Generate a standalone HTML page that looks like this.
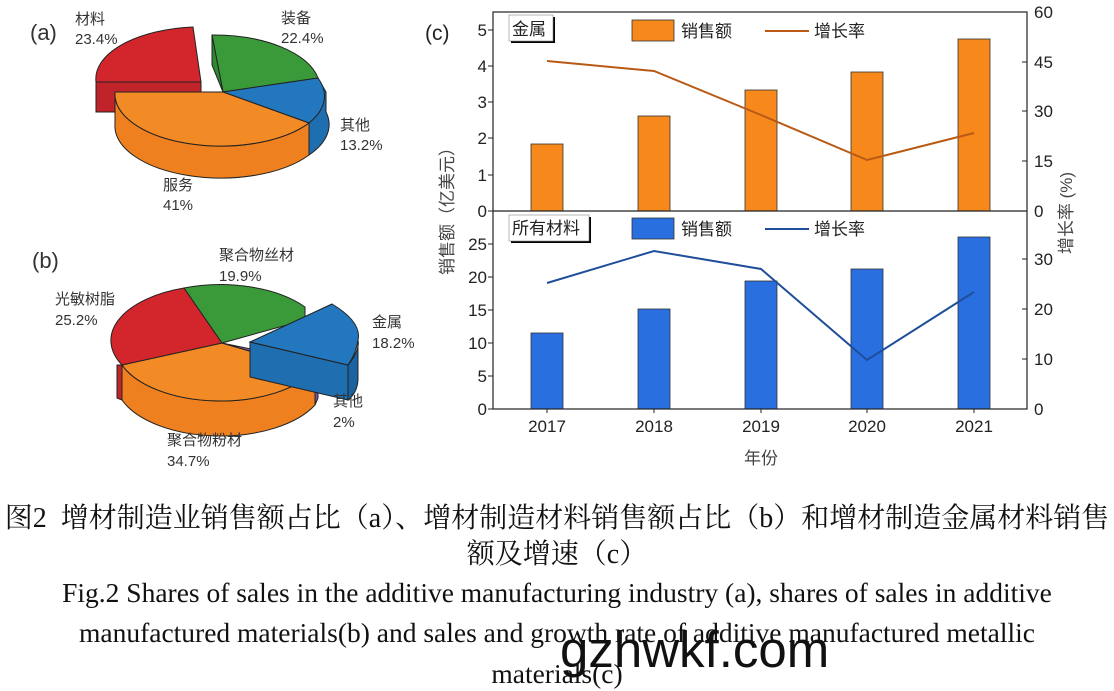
<!DOCTYPE html>
<html><head><meta charset="utf-8"><style>
body{margin:0;background:#fff;width:1114px;height:691px;overflow:hidden;position:relative;font-family:"Liberation Sans","Noto Sans CJK SC",sans-serif}
.cap{position:absolute;left:0;width:1114px;text-align:center;font-family:"Liberation Serif","Noto Serif CJK SC",serif;color:#111;white-space:nowrap}
</style></head><body>
<svg width="1114" height="480" style="position:absolute;left:0;top:0" font-family="Liberation Sans, Noto Sans CJK SC, sans-serif">
<g stroke="#222" stroke-width="1">
<path d="M96,82 L96,112 L201,112 L201,82 Z" fill="#c0242a"/>
<path d="M96,82 A106,52 0 0 1 193,27 L201,82 Z" fill="#d3262c"/>
<path d="M318,78 L326,92 L326,112 A106,52 0 0 1 309,155 L309,123 Z" fill="#1f6fb0"/>
<path d="M212,35 A106,52 0 0 1 318,78 L223,92 Z" fill="#3a9a3a"/>
<path d="M212,35 L212,65 L223,92 Z" fill="#2f8a2f"/>
<path d="M223,92 L318,78 A106,52 0 0 1 309,123 Z" fill="#2277be"/>
<path d="M115,92 A106,52 0 0 0 309,123 L309,155 A106,52 0 0 1 115,124 Z" fill="#ee8020"/>
<path d="M223,92 L115,92 A106,52 0 0 0 309,123 Z" fill="#f28a25"/>
<path d="M117,365 L117,398 L122,400 L122,365 Z" fill="#c0242a"/>
<path d="M122,365 A105,55 0 0 0 315,370 L315,405 A105,55 0 0 1 122,400 Z" fill="#ee8020"/>
<path d="M222,343 L122,365 A105,55 0 0 0 315,370 Z" fill="#f28a25"/>
<path d="M222,343 L315,370 L318,363 Z" fill="#8e5fb0"/>
<path d="M315,370 L318,363 L318,398 L315,405 Z" fill="#7d4f9e"/>
<path d="M222,343 L122,365 A105,55 0 0 1 184,288 Z" fill="#d3262c"/>
<path d="M222,343 L184,288 A105,55 0 0 1 305,307 L305,320 Z" fill="#3a9a3a"/>
<path d="M348,365 Q360,350 358,340 L358,378 Q358,392 348,400 Z" fill="#1a62a0"/>
<path d="M250,342 L348,365 L348,400 L250,377 Z" fill="#1f6fb0"/>
<path d="M250,342 L332,304 Q362,322 358,340 Q356,354 348,365 Z" fill="#2277be"/>
</g>
<g font-size="15" fill="#333">
<text x="30" y="40" font-size="22">(a)</text>
<text x="75" y="24">材料</text><text x="75" y="44">23.4%</text>
<text x="281" y="23">装备</text><text x="281" y="43">22.4%</text>
<text x="340" y="130">其他</text><text x="340" y="150">13.2%</text>
<text x="163" y="190">服务</text><text x="163" y="210">41%</text>
<text x="32" y="268" font-size="22">(b)</text>
<text x="219" y="260">聚合物丝材</text><text x="219" y="281">19.9%</text>
<text x="55" y="304">光敏树脂</text><text x="55" y="325">25.2%</text>
<text x="372" y="327">金属</text><text x="372" y="348">18.2%</text>
<text x="333" y="406">其他</text><text x="333" y="427">2%</text>
<text x="167" y="445">聚合物粉材</text><text x="167" y="466">34.7%</text>
</g>
<g font-size="17" fill="#222">
<text x="425" y="40" font-size="21">(c)</text>
<rect x="531" y="144" width="32" height="67" fill="#f7891c" stroke="#333" stroke-width="0.8"/>
<rect x="638" y="116" width="32" height="95" fill="#f7891c" stroke="#333" stroke-width="0.8"/>
<rect x="745" y="90" width="32" height="121" fill="#f7891c" stroke="#333" stroke-width="0.8"/>
<rect x="851" y="72" width="32" height="139" fill="#f7891c" stroke="#333" stroke-width="0.8"/>
<rect x="958" y="39" width="32" height="172" fill="#f7891c" stroke="#333" stroke-width="0.8"/>
<polyline points="547,61 654,71 761,115 867,160 974,133" fill="none" stroke="#b85a14" stroke-width="2"/>
<rect x="531" y="333" width="32" height="76" fill="#2a6fe0" stroke="#333" stroke-width="0.8"/>
<rect x="638" y="309" width="32" height="100" fill="#2a6fe0" stroke="#333" stroke-width="0.8"/>
<rect x="745" y="281" width="32" height="128" fill="#2a6fe0" stroke="#333" stroke-width="0.8"/>
<rect x="851" y="269" width="32" height="140" fill="#2a6fe0" stroke="#333" stroke-width="0.8"/>
<rect x="958" y="237" width="32" height="172" fill="#2a6fe0" stroke="#333" stroke-width="0.8"/>
<polyline points="547,283 654,251 761,269 867,360 974,292" fill="none" stroke="#1f4e9a" stroke-width="2"/>
<rect x="493" y="12" width="534" height="397" fill="none" stroke="#222" stroke-width="1.2"/>
<line x1="493" y1="211" x2="1027" y2="211" stroke="#222" stroke-width="1.2"/>
<g stroke="#222" stroke-width="1">
<line x1="488" y1="211" x2="493" y2="211"/><line x1="488" y1="175" x2="493" y2="175"/><line x1="488" y1="138" x2="493" y2="138"/><line x1="488" y1="102" x2="493" y2="102"/><line x1="488" y1="66" x2="493" y2="66"/><line x1="488" y1="30" x2="493" y2="30"/>
<line x1="488" y1="409" x2="493" y2="409"/><line x1="488" y1="376" x2="493" y2="376"/><line x1="488" y1="343" x2="493" y2="343"/><line x1="488" y1="310" x2="493" y2="310"/><line x1="488" y1="277" x2="493" y2="277"/><line x1="488" y1="244" x2="493" y2="244"/>
<line x1="1022" y1="12" x2="1027" y2="12"/><line x1="1022" y1="62" x2="1027" y2="62"/><line x1="1022" y1="111" x2="1027" y2="111"/><line x1="1022" y1="161" x2="1027" y2="161"/>
<line x1="1022" y1="359" x2="1027" y2="359"/><line x1="1022" y1="309" x2="1027" y2="309"/><line x1="1022" y1="259" x2="1027" y2="259"/>
<line x1="547" y1="409" x2="547" y2="413"/><line x1="654" y1="409" x2="654" y2="413"/><line x1="761" y1="409" x2="761" y2="413"/><line x1="867" y1="409" x2="867" y2="413"/><line x1="974" y1="409" x2="974" y2="413"/>
</g>
<g text-anchor="end">
<text x="487" y="217">0</text><text x="487" y="181">1</text><text x="487" y="144">2</text><text x="487" y="108">3</text><text x="487" y="72">4</text><text x="487" y="36">5</text>
<text x="487" y="415">0</text><text x="487" y="382">5</text><text x="487" y="349">10</text><text x="487" y="316">15</text><text x="487" y="283">20</text><text x="487" y="250">25</text>
</g>
<g>
<text x="1034" y="18">60</text><text x="1034" y="68">45</text><text x="1034" y="117">30</text><text x="1034" y="167">15</text><text x="1034" y="217">0</text>
<text x="1034" y="415">0</text><text x="1034" y="365">10</text><text x="1034" y="315">20</text><text x="1034" y="265">30</text>
</g>
<g text-anchor="middle">
<text x="547" y="432">2017</text><text x="654" y="432">2018</text><text x="761" y="432">2019</text><text x="867" y="432">2020</text><text x="974" y="432">2021</text>
<text x="761" y="464" fill="#444">年份</text>
<text transform="translate(453,207) rotate(-90)" fill="#444">销售额（亿美元）</text>
<text transform="translate(1072,213) rotate(-90)" fill="#444">增长率 (%)</text>
</g>
<rect x="511" y="17" width="44" height="26" fill="#000"/><rect x="509" y="15" width="44" height="26" fill="#fff" stroke="#888" stroke-width="0.6"/>
<text x="512" y="35">金属</text>
<rect x="632" y="20" width="42" height="21" fill="#f7891c" stroke="#333" stroke-width="0.8"/><text x="681" y="37">销售额</text>
<line x1="765" y1="31" x2="809" y2="31" stroke="#b85a14" stroke-width="2"/><text x="814" y="37">增长率</text>
<rect x="511" y="217" width="80" height="26" fill="#000"/><rect x="509" y="215" width="80" height="26" fill="#fff" stroke="#888" stroke-width="0.6"/>
<text x="512" y="234">所有材料</text>
<rect x="632" y="218" width="42" height="21" fill="#2a6fe0" stroke="#333" stroke-width="0.8"/><text x="681" y="235">销售额</text>
<line x1="765" y1="229" x2="809" y2="229" stroke="#1f4e9a" stroke-width="2"/><text x="814" y="235">增长率</text>
</g>
</svg>
<div class="cap" style="top:496px;font-size:28px">图2&nbsp; 增材制造业销售额占比（a）、增材制造材料销售额占比（b）和增材制造金属材料销售</div>
<div class="cap" style="top:532px;font-size:28px">额及增速（c）</div>
<div class="cap" style="top:577px;font-size:27.5px">Fig.2 Shares of sales in the additive manufacturing industry (a), shares of sales in additive</div>
<div class="cap" style="top:617px;font-size:27.5px">manufactured materials(b) and sales and growth rate of additive manufactured metallic</div>
<div class="cap" style="top:658px;font-size:27.5px">materials(c)</div>
<div style="position:absolute;left:560px;top:620px;font-size:51px;color:#111;font-family:'Liberation Sans',sans-serif">gzhwkf.com</div>
</body></html>
